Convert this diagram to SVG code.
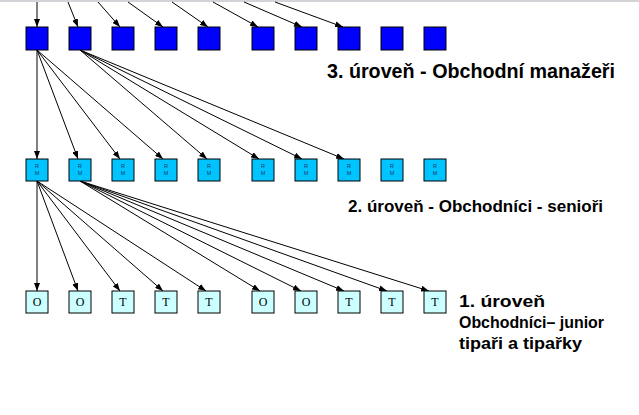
<svg xmlns="http://www.w3.org/2000/svg" width="639" height="415" viewBox="0 0 639 415">
<defs>
<marker id="ah" viewBox="0 0 8 6" markerWidth="8" markerHeight="6" refX="8" refY="3" orient="auto" markerUnits="userSpaceOnUse">
<path d="M0,0 L8,3 L0,6 z" fill="#000"/>
</marker>
<style>
.l{stroke:#000;stroke-width:1;fill:none;marker-end:url(#ah)}
.t{fill:#0000ff;stroke:#000;stroke-width:1}
.m{fill:#00c4ff;stroke:#000;stroke-width:1}
.b{fill:#ccffff;stroke:#000;stroke-width:1}
.mt{font-family:"Liberation Sans",Arial,sans-serif;font-size:5.5px;fill:#1a3a6a;text-anchor:middle}
.bt{font-family:"Liberation Serif","Times New Roman",serif;font-size:12px;fill:#000;text-anchor:middle}
.lab{font-family:"Liberation Sans",Arial,sans-serif;font-weight:bold;fill:#000}
</style>
</defs>
<rect x="0" y="0" width="639" height="415" fill="#fff"/>
<rect x="0" y="0" width="639" height="2" fill="#d4d4d8"/>
<g id="connectors">
<line class="l" x1="37" y1="2" x2="37" y2="27"/>
<line class="l" x1="68" y1="2" x2="78" y2="27"/>
<line class="l" x1="98" y1="2" x2="120" y2="27"/>
<line class="l" x1="128" y1="2" x2="163" y2="27"/>
<line class="l" x1="172" y1="2" x2="208" y2="27"/>
<line class="l" x1="213" y1="2" x2="258" y2="27"/>
<line class="l" x1="244" y1="2" x2="302" y2="27"/>
<line class="l" x1="275" y1="2" x2="343" y2="27"/>
<line class="l" x1="37" y1="50" x2="37" y2="159"/>
<line class="l" x1="37" y1="50" x2="78" y2="159"/>
<line class="l" x1="37" y1="50" x2="120" y2="159"/>
<line class="l" x1="37" y1="50" x2="163" y2="159"/>
<line class="l" x1="80" y1="50" x2="207" y2="159"/>
<line class="l" x1="80" y1="50" x2="259" y2="159"/>
<line class="l" x1="80" y1="50" x2="302" y2="159"/>
<line class="l" x1="80" y1="50" x2="344" y2="159"/>
<line class="l" x1="37" y1="181" x2="37" y2="291"/>
<line class="l" x1="37" y1="181" x2="78" y2="291"/>
<line class="l" x1="37" y1="181" x2="120" y2="291"/>
<line class="l" x1="37" y1="181" x2="163" y2="291"/>
<line class="l" x1="37" y1="181" x2="206" y2="291"/>
<line class="l" x1="80" y1="181" x2="260" y2="291"/>
<line class="l" x1="80" y1="181" x2="301" y2="291"/>
<line class="l" x1="80" y1="181" x2="344" y2="291"/>
<line class="l" x1="80" y1="181" x2="387" y2="291"/>
<line class="l" x1="80" y1="181" x2="429" y2="291"/>
</g>
<g id="top1"><rect class="t" x="26" y="27" width="22" height="23"/></g>
<g id="top2"><rect class="t" x="69" y="27" width="22" height="23"/></g>
<g id="top3"><rect class="t" x="112" y="27" width="22" height="23"/></g>
<g id="top4"><rect class="t" x="155" y="27" width="22" height="23"/></g>
<g id="top5"><rect class="t" x="198" y="27" width="22" height="23"/></g>
<g id="top6"><rect class="t" x="252" y="27" width="22" height="23"/></g>
<g id="top7"><rect class="t" x="295" y="27" width="22" height="23"/></g>
<g id="top8"><rect class="t" x="338" y="27" width="22" height="23"/></g>
<g id="top9"><rect class="t" x="381" y="27" width="22" height="23"/></g>
<g id="top10"><rect class="t" x="424" y="27" width="22" height="23"/></g>
<g id="mid1"><rect class="m" x="26" y="159" width="22" height="22"/><text class="mt" x="37" y="168">R</text><text class="mt" x="37" y="175">M</text></g>
<g id="mid2"><rect class="m" x="69" y="159" width="22" height="22"/><text class="mt" x="80" y="168">R</text><text class="mt" x="80" y="175">M</text></g>
<g id="mid3"><rect class="m" x="112" y="159" width="22" height="22"/><text class="mt" x="123" y="168">R</text><text class="mt" x="123" y="175">M</text></g>
<g id="mid4"><rect class="m" x="155" y="159" width="22" height="22"/><text class="mt" x="166" y="168">R</text><text class="mt" x="166" y="175">M</text></g>
<g id="mid5"><rect class="m" x="198" y="159" width="22" height="22"/><text class="mt" x="209" y="168">R</text><text class="mt" x="209" y="175">M</text></g>
<g id="mid6"><rect class="m" x="252" y="159" width="22" height="22"/><text class="mt" x="263" y="168">R</text><text class="mt" x="263" y="175">M</text></g>
<g id="mid7"><rect class="m" x="295" y="159" width="22" height="22"/><text class="mt" x="306" y="168">R</text><text class="mt" x="306" y="175">M</text></g>
<g id="mid8"><rect class="m" x="338" y="159" width="22" height="22"/><text class="mt" x="349" y="168">R</text><text class="mt" x="349" y="175">M</text></g>
<g id="mid9"><rect class="m" x="381" y="159" width="22" height="22"/><text class="mt" x="392" y="168">R</text><text class="mt" x="392" y="175">M</text></g>
<g id="mid10"><rect class="m" x="424" y="159" width="22" height="22"/><text class="mt" x="435" y="168">R</text><text class="mt" x="435" y="175">M</text></g>
<g id="bot1"><rect class="b" x="26" y="291" width="22" height="22"/><text class="bt" x="37" y="306">O</text></g>
<g id="bot2"><rect class="b" x="69" y="291" width="22" height="22"/><text class="bt" x="80" y="306">O</text></g>
<g id="bot3"><rect class="b" x="112" y="291" width="22" height="22"/><text class="bt" x="123" y="306">T</text></g>
<g id="bot4"><rect class="b" x="155" y="291" width="22" height="22"/><text class="bt" x="166" y="306">T</text></g>
<g id="bot5"><rect class="b" x="198" y="291" width="22" height="22"/><text class="bt" x="209" y="306">T</text></g>
<g id="bot6"><rect class="b" x="252" y="291" width="22" height="22"/><text class="bt" x="263" y="306">O</text></g>
<g id="bot7"><rect class="b" x="295" y="291" width="22" height="22"/><text class="bt" x="306" y="306">O</text></g>
<g id="bot8"><rect class="b" x="338" y="291" width="22" height="22"/><text class="bt" x="349" y="306">T</text></g>
<g id="bot9"><rect class="b" x="381" y="291" width="22" height="22"/><text class="bt" x="392" y="306">T</text></g>
<g id="bot10"><rect class="b" x="424" y="291" width="22" height="22"/><text class="bt" x="435" y="306">T</text></g>
<g id="labels">
<text class="lab" x="327" y="78" font-size="20" textLength="288" lengthAdjust="spacingAndGlyphs">3. úroveň  - Obchodní manažeři</text>
<text class="lab" x="348" y="212" font-size="17" textLength="255" lengthAdjust="spacingAndGlyphs">2. úroveň - Obchodníci - senioři</text>
<text class="lab" x="459" y="307" font-size="16.5" textLength="86" lengthAdjust="spacingAndGlyphs">1. úroveň</text>
<text class="lab" x="459" y="328" font-size="16.5" textLength="145" lengthAdjust="spacingAndGlyphs">Obchodníci– junior</text>
<text class="lab" x="459" y="349" font-size="16.5" textLength="123" lengthAdjust="spacingAndGlyphs">tipaři a tipařky</text>
</g>
</svg>
